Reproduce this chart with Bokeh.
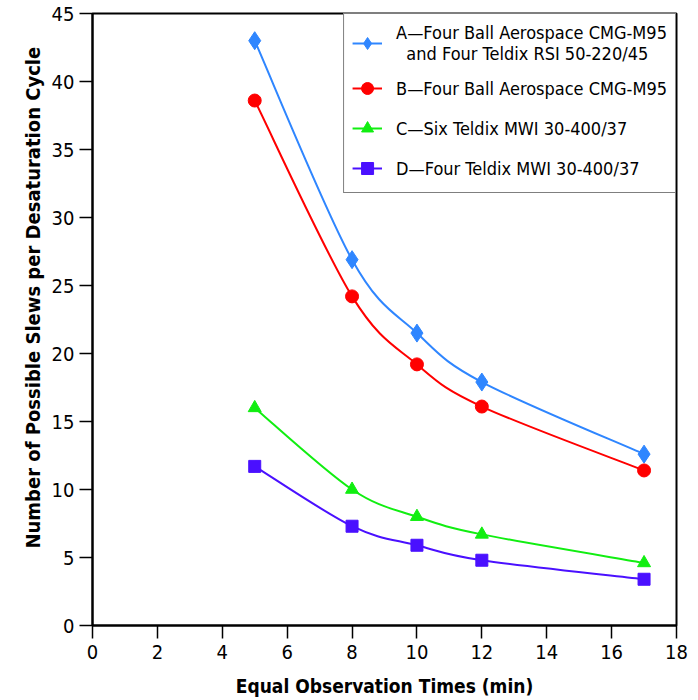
from bokeh.plotting import figure
from bokeh.models import Legend, LegendItem, FixedTicker, Range1d, Title
from bokeh.embed import file_html
from bokeh.resources import INLINE

times = [5, 8, 10, 12, 17]
series_a = [43.0, 26.9, 21.5, 17.9, 12.6]
series_b = [38.6, 24.2, 19.2, 16.1, 11.4]
series_c = [16.0, 10.0, 8.0, 6.7, 4.6]
series_d = [11.7, 7.3, 5.9, 4.8, 3.4]
labels = [
    "A\u2014Four Ball Aerospace CMG-M95\n  and Four Teldix RSI 50-220/45",
    "B\u2014Four Ball Aerospace CMG-M95",
    "C\u2014Six Teldix MWI 30-400/37",
    "D\u2014Four Teldix MWI 30-400/37",
]
colors = ["#2f86ff", "#ff0000", "#11ee11", "#4a10ff"]
markers = ["diamond", "circle", "triangle", "square"]
msizes = [18, 13, 13, 12]
x_ticks = list(range(0, 19, 2))
y_ticks = list(range(0, 46, 5))
x_title = "Equal Observation Times (min)"
y_title = "Number of Possible Slews per Desaturation Cycle"

FONT = "'DejaVu Sans Condensed', 'Liberation Sans Narrow', 'Liberation Sans'"

p = figure(width=698, height=700, output_backend="svg", toolbar_location=None,
           x_range=Range1d(0, 18), y_range=Range1d(0, 45),
           min_border_left=92, min_border_right=22, min_border_top=13, min_border_bottom=75)
p.xgrid.visible = False
p.ygrid.visible = False
p.outline_line_color = "black"
p.outline_line_width = 2
p.background_fill_color = "white"
p.border_fill_color = "white"

for ax in (p.xaxis[0], p.yaxis[0]):
    ax.axis_line_width = 2
    ax.major_tick_line_width = 1.5
    ax.major_tick_out = 13
    ax.major_tick_in = 0
    ax.minor_tick_out = 0
    ax.minor_tick_in = 0
    ax.major_label_text_font = FONT
    ax.major_label_text_font_size = "20px"
    ax.major_label_text_color = "black"
    ax.axis_label_text_font = FONT
    ax.axis_label_text_font_style = "bold"
    ax.axis_label_text_color = "black"

p.xaxis.axis_label_text_font_size = "19px"
p.xaxis.ticker = FixedTicker(ticks=x_ticks)
p.yaxis.ticker = FixedTicker(ticks=y_ticks)
p.xaxis.axis_label = x_title
p.xaxis.major_label_standoff = 6
p.yaxis.major_label_standoff = 5
p.xaxis.axis_label_standoff = 13

ytitle = Title(text=y_title, align="left", offset=77, text_font=FONT,
               text_font_size="20px", text_font_style="bold", text_color="black",
               standoff=8)
p.add_layout(ytitle, "left")


def bezier_parts(xs, ys):
    n = len(xs)
    x0, y0, x1, y1, cx0, cy0, cx1, cy1 = [], [], [], [], [], [], [], []
    for i in range(n - 1):
        im1 = max(i - 1, 0)
        ip2 = min(i + 2, n - 1)
        x0.append(xs[i]); y0.append(ys[i])
        x1.append(xs[i + 1]); y1.append(ys[i + 1])
        cx0.append(xs[i] + (xs[i + 1] - xs[im1]) / 6.0)
        cy0.append(ys[i] + (ys[i + 1] - ys[im1]) / 6.0)
        cx1.append(xs[i + 1] - (xs[ip2] - xs[i]) / 6.0)
        cy1.append(ys[i + 1] - (ys[ip2] - ys[i]) / 6.0)
    return dict(x0=x0, y0=y0, x1=x1, y1=y1, cx0=cx0, cy0=cy0, cx1=cx1, cy1=cy1)


items = []
for ys, lab, col, mk, ms in zip([series_a, series_b, series_c, series_d], labels, colors, markers, msizes):
    bz = bezier_parts(times, ys)
    p.bezier(line_color=col, line_width=2, **bz)
    sr = p.scatter(times, ys, marker=mk, size=ms, fill_color=col, line_color=col)
    lr = p.line([times[0]], [ys[0]], line_color=col, line_width=2)
    items.append(LegendItem(label=lab, renderers=[lr, sr]))

legend = Legend(items=items, location="top_right")
legend.margin = 0
legend.border_line_color = "black"
legend.border_line_width = 1.5
legend.padding = 8
legend.spacing = 8
legend.glyph_width = 30
legend.glyph_height = 32
legend.label_standoff = 14
legend.label_text_font = FONT
legend.label_text_font_size = "18px"
legend.label_text_color = "black"
legend.background_fill_alpha = 1
p.add_layout(legend, "center")

open("out.html", "w").write(file_html(p, INLINE))
